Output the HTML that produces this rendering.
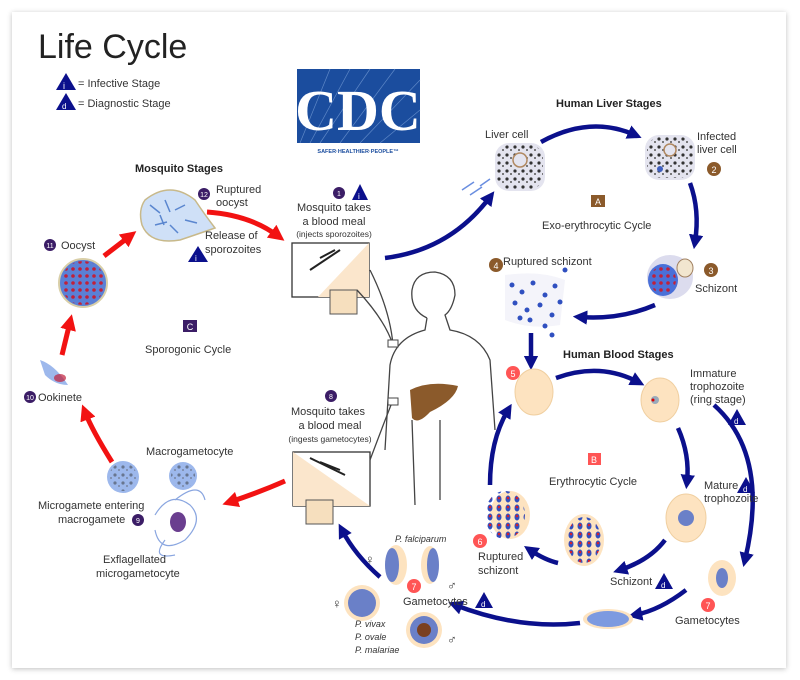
<!DOCTYPE html>
<html><head><meta charset="utf-8"><style>
html,body{margin:0;padding:0;background:#fff;width:800px;height:680px;overflow:hidden}
.card{position:absolute;left:12px;top:12px;width:774px;height:656px;background:#fff;box-shadow:0 1px 5px rgba(0,0,0,.25)}
svg{position:absolute;left:0;top:0}
text{font-family:"Liberation Sans",sans-serif;fill:#333}
.b{font-weight:bold;fill:#222}
</style></head><body>
<div class="card"></div>
<svg width="800" height="680" viewBox="0 0 800 680">
<defs>
<marker id="ab" viewBox="0 0 10 10" refX="5" refY="5" markerWidth="3.2" markerHeight="3.2" orient="auto"><path d="M0,0L10,5L0,10z" fill="#0b108c"/></marker>
<marker id="ar" viewBox="0 0 10 10" refX="5" refY="5" markerWidth="3.2" markerHeight="3.2" orient="auto"><path d="M0,0L10,5L0,10z" fill="#f21212"/></marker>
<pattern id="dots" width="8" height="8" patternUnits="userSpaceOnUse"><circle cx="3" cy="3" r="1.6" fill="#333"/><circle cx="7" cy="6" r="1" fill="#555"/></pattern>
<pattern id="rd" width="7" height="7" patternUnits="userSpaceOnUse"><circle cx="3" cy="3" r="1.8" fill="#c0203a"/></pattern>
<pattern id="bd" width="9" height="9" patternUnits="userSpaceOnUse"><ellipse cx="4" cy="4" rx="2.5" ry="3.5" fill="#3050c0"/><circle cx="4" cy="3" r="1.3" fill="#d02030"/></pattern>
</defs>
<text x="38" y="58" font-size="34" style="fill:#222">Life Cycle</text>
<path d="M56,90 L66,73 L76,90z" fill="#0b108c"/><text x="63" y="89" font-size="9" style="fill:#fff">i</text>
<text x="78" y="87" font-size="11">= Infective Stage</text>
<path d="M56,110 L66,93 L76,110z" fill="#0b108c"/><text x="62" y="109" font-size="8" style="fill:#fff">d</text>
<text x="78" y="107" font-size="11">= Diagnostic Stage</text>
<rect x="297" y="69" width="123" height="74" fill="#1b4d9e"/>
<g stroke="#7aa0d8" stroke-width="0.7" opacity=".7"><path d="M300,143L330,69M310,143L350,69M320,143L370,69M340,143L395,69M360,143L420,80M380,143L420,110"/></g>
<text x="358" y="130" font-size="58" text-anchor="middle" style="fill:#fff;font-family:'Liberation Serif',serif;font-weight:bold">CDC</text>
<text x="358" y="153" font-size="5.5" text-anchor="middle" style="fill:#1b4d9e;font-weight:bold">SAFER·HEALTHIER·PEOPLE™</text>
<text x="135" y="172" font-size="11" class="b">Mosquito Stages</text>
<path d="M145,200 Q170,180 195,200 Q205,215 215,228 Q195,235 180,240 Q150,245 142,225 Q138,210 145,200z" fill="#cfe0f7" stroke="#c8b98a" stroke-width="1.5"/>
<g stroke="#5a86cf" stroke-width="1.5"><path d="M150,205l10,8M165,200l5,12M175,210l10,-5M155,225l12,-3M170,225l8,8M185,220l12,3M160,215l4,10"/></g>
<circle cx="204" cy="194" r="6" fill="#3b1d66"/><text x="204" y="197" font-size="7" text-anchor="middle" style="fill:#fff">12</text>
<text x="216" y="193" font-size="11">Ruptured</text><text x="216" y="206" font-size="11">oocyst</text>
<text x="205" y="239" font-size="11">Release of</text><text x="205" y="253" font-size="11">sporozoites</text>
<path d="M188,262 L198,246 L208,262z" fill="#0b108c"/><text x="195" y="261" font-size="8" style="fill:#fff">i</text>
<circle cx="50" cy="245" r="6" fill="#3b1d66"/><text x="50" y="248" font-size="7" text-anchor="middle" style="fill:#fff">11</text>
<text x="61" y="249" font-size="11">Oocyst</text>
<circle cx="83" cy="283" r="24" fill="#5a80d6" stroke="#d9cfa8" stroke-width="2"/>
<circle cx="83" cy="283" r="22" fill="url(#rd)"/>
<rect x="183" y="320" width="14" height="12" fill="#3b1d66"/><text x="190" y="330" font-size="9" text-anchor="middle" style="fill:#fff">C</text>
<text x="145" y="353" font-size="11">Sporogonic Cycle</text>
<path d="M40,360 Q55,365 68,385 Q55,385 45,375z" fill="#9db8ec"/><ellipse cx="60" cy="378" rx="6" ry="4" fill="#c0203a" opacity=".7"/>
<circle cx="30" cy="397" r="6" fill="#3b1d66"/><text x="30" y="400" font-size="7" text-anchor="middle" style="fill:#fff">10</text>
<text x="38" y="401" font-size="11">Ookinete</text>
<g fill="none" stroke="#f21212" stroke-width="5">
<path d="M62,355 L70,322" marker-end="url(#ar)"/>
<path d="M104,256 L130,236" marker-end="url(#ar)"/>
<path d="M207,212 Q250,215 278,236" marker-end="url(#ar)"/>
<path d="M112,462 Q92,430 85,412" marker-end="url(#ar)"/>
<path d="M285,481 Q260,492 230,502" marker-end="url(#ar)"/>
</g>
<circle cx="123" cy="477" r="16" fill="#9db8ec"/><circle cx="123" cy="477" r="14" fill="url(#dots)" opacity=".5"/>
<text x="146" y="455" font-size="11">Macrogametocyte</text>
<circle cx="183" cy="476" r="14" fill="#9db8ec"/><circle cx="183" cy="476" r="12" fill="url(#dots)" opacity=".5"/>
<text x="38" y="509" font-size="11">Microgamete entering</text>
<text x="58" y="523" font-size="11">macrogamete</text>
<circle cx="138" cy="520" r="6" fill="#3b1d66"/><text x="138" y="523" font-size="7" text-anchor="middle" style="fill:#fff">9</text>
<g fill="none" stroke="#8aa6e0" stroke-width="1.2"><path d="M155,515 Q170,490 190,505 Q205,520 185,540 Q160,555 155,530M175,500 Q200,480 205,500M165,540 Q150,560 175,555"/></g>
<ellipse cx="178" cy="522" rx="8" ry="10" fill="#6a3e8f"/>
<text x="103" y="563" font-size="11">Exflagellated</text>
<text x="96" y="577" font-size="11">microgametocyte</text>
<circle cx="339" cy="193" r="6" fill="#3b1d66"/><text x="339" y="196" font-size="7" text-anchor="middle" style="fill:#fff">1</text>
<path d="M352,200 L360,184 L368,200z" fill="#0b108c"/><text x="358" y="199" font-size="8" style="fill:#fff">i</text>
<text x="334" y="211" font-size="11" text-anchor="middle">Mosquito takes</text>
<text x="334" y="225" font-size="11" text-anchor="middle">a blood meal</text>
<text x="334" y="237" font-size="8.5" text-anchor="middle">(injects sporozoites)</text>
<rect x="292" y="243" width="77" height="54" fill="#fff" stroke="#333" stroke-width="1.3"/>
<path d="M369,243 L369,297 L318,297z" fill="#fbe6cc"/>
<path d="M310,270 L340,250 M320,258 l15,-8" stroke="#222" stroke-width="2"/>
<rect x="330" y="290" width="27" height="24" fill="#f6dfbe" stroke="#555"/>
<circle cx="331" cy="396" r="6" fill="#3b1d66"/><text x="331" y="399" font-size="7" text-anchor="middle" style="fill:#fff">8</text>
<text x="328" y="415" font-size="11" text-anchor="middle">Mosquito takes</text>
<text x="330" y="429" font-size="11" text-anchor="middle">a blood meal</text>
<text x="330" y="442" font-size="8.5" text-anchor="middle">(ingests gametocytes)</text>
<rect x="293" y="452" width="77" height="54" fill="#fff" stroke="#333" stroke-width="1.3"/>
<path d="M293,452 L370,506 L293,506z" fill="#fbe6cc"/>
<path d="M310,458 L345,475 M320,462 l20,8" stroke="#222" stroke-width="2"/>
<rect x="306" y="500" width="27" height="24" fill="#f6dfbe" stroke="#555"/>
<g fill="none" stroke="#444" stroke-width="1.3">
<path d="M427,318 Q410,310 412,290 Q415,272 435,272 Q455,275 455,295 Q452,310 445,315 L450,330 Q480,335 490,360 L495,430 M427,318 L425,330 Q395,338 390,365 L385,450"/>
<path d="M412,420 L415,505 M440,420 L440,500"/>
<path d="M370,270 Q390,310 393,345 M357,290 Q385,320 393,345 M370,460 Q385,420 393,400"/>
</g>
<rect x="388" y="340" width="10" height="7" fill="#fff" stroke="#444"/><rect x="388" y="398" width="10" height="7" fill="#fff" stroke="#444"/>
<path d="M410,390 Q430,380 458,386 Q455,400 430,412 Q418,425 412,418z" fill="#8b5a2b"/>
<text x="556" y="107" font-size="11" class="b">Human Liver Stages</text>
<text x="485" y="138" font-size="11">Liver cell</text>
<rect x="495" y="143" width="50" height="48" rx="14" fill="#e4e4ef"/><rect x="497" y="145" width="46" height="44" rx="13" fill="url(#dots)"/>
<circle cx="520" cy="160" r="7" fill="#e4e4ef" stroke="#b08860" stroke-width="1.5"/>
<g stroke="#6a8ee0" stroke-width="1.5"><path d="M462,190 l12,-8M470,195 l12,-8M480,186l10,-7"/></g>
<rect x="645" y="135" width="50" height="45" rx="14" fill="#e4e4ef"/><rect x="647" y="137" width="46" height="41" rx="13" fill="url(#dots)"/>
<circle cx="670" cy="150" r="6" fill="#e4e4ef" stroke="#b08860" stroke-width="1.5"/><circle cx="660" cy="169" r="3" fill="#4060c0"/>
<text x="697" y="140" font-size="11">Infected</text><text x="697" y="153" font-size="11">liver cell</text>
<circle cx="714" cy="169" r="7" fill="#8b5a2b"/><text x="714" y="173" font-size="9" text-anchor="middle" style="fill:#fff">2</text>
<rect x="591" y="195" width="14" height="12" fill="#8b5a2b"/><text x="598" y="205" font-size="9" text-anchor="middle" style="fill:#fff">A</text>
<text x="542" y="229" font-size="11">Exo-erythrocytic Cycle</text>
<ellipse cx="670" cy="277" rx="23" ry="22" fill="#dcdcee"/><ellipse cx="663" cy="280" rx="15" ry="16" fill="#4a70d8"/><ellipse cx="663" cy="280" rx="13" ry="14" fill="url(#rd)"/>
<ellipse cx="685" cy="268" rx="8" ry="9" fill="#f2e6cf" stroke="#a08060"/>
<circle cx="711" cy="270" r="7" fill="#8b5a2b"/><text x="711" y="274" font-size="9" text-anchor="middle" style="fill:#fff">3</text>
<text x="695" y="292" font-size="11">Schizont</text>
<circle cx="496" cy="265" r="7" fill="#8b5a2b"/><text x="496" y="269" font-size="9" text-anchor="middle" style="fill:#fff">4</text>
<text x="503" y="265" font-size="11">Ruptured schizont</text>
<path d="M505,275 Q540,270 565,280 L560,325 Q530,330 505,320z" fill="#f4f4fa"/>
<g fill="#3050c0"><circle cx="512" cy="285" r="2.5"/><circle cx="522" cy="292" r="2.5"/><circle cx="533" cy="283" r="2.5"/><circle cx="545" cy="295" r="2.5"/><circle cx="555" cy="286" r="2.5"/><circle cx="515" cy="303" r="2.5"/><circle cx="527" cy="310" r="2.5"/><circle cx="540" cy="305" r="2.5"/><circle cx="552" cy="315" r="2.5"/><circle cx="530" cy="320" r="2.5"/><circle cx="560" cy="302" r="2.5"/><circle cx="520" cy="318" r="2.5"/><circle cx="545" cy="326" r="2.5"/><circle cx="565" cy="270" r="2.5"/><circle cx="552" cy="335" r="2.5"/></g>
<g fill="none" stroke="#0b108c" stroke-width="4.5">
<path d="M385,258 Q450,250 490,197" marker-end="url(#ab)"/>
<path d="M541,142 Q590,115 635,135" marker-end="url(#ab)"/>
<path d="M690,183 Q700,210 695,242" marker-end="url(#ab)"/>
<path d="M655,305 Q620,320 580,317" marker-end="url(#ab)"/>
<path d="M531,333 L531,363" marker-end="url(#ab)"/>
<path d="M556,378 Q600,362 638,382" marker-end="url(#ab)"/>
<path d="M678,428 Q690,455 687,482" marker-end="url(#ab)"/>
<path d="M714,405 Q770,455 745,560" marker-end="url(#ab)"/>
<path d="M665,540 Q650,560 620,570" marker-end="url(#ab)"/>
<path d="M558,563 Q545,560 530,550" marker-end="url(#ab)"/>
<path d="M490,485 Q490,440 508,410" marker-end="url(#ab)"/>
<path d="M686,590 Q660,610 635,615" marker-end="url(#ab)"/>
<path d="M580,623 Q520,630 455,605" marker-end="url(#ab)"/>
<path d="M380,577 Q355,555 342,530" marker-end="url(#ab)"/>
</g>
<text x="563" y="358" font-size="11" class="b">Human Blood Stages</text>
<circle cx="513" cy="373" r="7" fill="#f55"/><text x="513" y="377" font-size="9" text-anchor="middle" style="fill:#fff">5</text>
<ellipse cx="534" cy="392" rx="19" ry="23" fill="#fde3c0" stroke="#f0cfa0"/>
<ellipse cx="660" cy="400" rx="19" ry="22" fill="#fde3c0" stroke="#f0cfa0"/><circle cx="655" cy="400" r="4" fill="#9ab"/><circle cx="653" cy="400" r="1.5" fill="#d00"/>
<text x="690" y="377" font-size="11">Immature</text><text x="690" y="390" font-size="11">trophozoite</text><text x="690" y="403" font-size="11">(ring stage)</text>
<path d="M728,425 L737,409 L746,425z" fill="#0b108c"/><text x="734" y="424" font-size="8" style="fill:#fff">d</text>
<rect x="588" y="453" width="13" height="12" fill="#f55"/><text x="594" y="463" font-size="9" text-anchor="middle" style="fill:#fff">B</text>
<text x="549" y="485" font-size="11">Erythrocytic Cycle</text>
<text x="704" y="489" font-size="11">Mature</text><text x="704" y="502" font-size="11">trophozoite</text>
<path d="M737,493 L746,477 L755,493z" fill="#0b108c"/><text x="743" y="492" font-size="8" style="fill:#fff">d</text>
<ellipse cx="686" cy="518" rx="20" ry="24" fill="#fde3c0" stroke="#f0cfa0"/><circle cx="686" cy="518" r="8" fill="#6a80c8"/>
<ellipse cx="584" cy="540" rx="20" ry="26" fill="#fde3c0"/><ellipse cx="584" cy="540" rx="17" ry="23" fill="url(#bd)"/>
<text x="610" y="585" font-size="11">Schizont</text>
<path d="M655,589 L664,573 L673,589z" fill="#0b108c"/><text x="661" y="588" font-size="8" style="fill:#fff">d</text>
<ellipse cx="510" cy="515" rx="20" ry="24" fill="#fde3c0"/><ellipse cx="505" cy="515" rx="20" ry="24" fill="url(#bd)"/>
<circle cx="480" cy="541" r="7" fill="#f55"/><text x="480" y="545" font-size="9" text-anchor="middle" style="fill:#fff">6</text>
<text x="478" y="560" font-size="11">Ruptured</text><text x="478" y="574" font-size="11">schizont</text>
<ellipse cx="722" cy="578" rx="14" ry="18" fill="#fde3c0"/><ellipse cx="722" cy="578" rx="6" ry="10" fill="#6a80c8"/>
<circle cx="708" cy="605" r="7" fill="#f55"/><text x="708" y="609" font-size="9" text-anchor="middle" style="fill:#fff">7</text>
<text x="675" y="624" font-size="11">Gametocytes</text>
<ellipse cx="608" cy="619" rx="25" ry="10" fill="#fde3c0"/><ellipse cx="608" cy="619" rx="21" ry="8" fill="#7d9ae0"/>
<text x="395" y="542" font-size="9" font-style="italic">P. falciparum</text>
<text x="365" y="564" font-size="13">♀</text>
<ellipse cx="396" cy="565" rx="11" ry="20" fill="#fde3c0"/><ellipse cx="392" cy="565" rx="7" ry="17" fill="#6a80c8"/>
<ellipse cx="430" cy="565" rx="9" ry="19" fill="#fde3c0"/><ellipse cx="433" cy="565" rx="6" ry="17" fill="#6a80c8"/>
<text x="447" y="590" font-size="13">♂</text>
<circle cx="414" cy="586" r="7" fill="#f55"/><text x="414" y="590" font-size="9" text-anchor="middle" style="fill:#fff">7</text>
<text x="403" y="605" font-size="11">Gametocytes</text>
<path d="M475,608 L484,592 L493,608z" fill="#0b108c"/><text x="481" y="607" font-size="8" style="fill:#fff">d</text>
<text x="332" y="608" font-size="13">♀</text>
<circle cx="362" cy="603" r="18" fill="#fde3c0"/><circle cx="362" cy="603" r="14" fill="#6a80c8"/>
<circle cx="424" cy="630" r="18" fill="#fde3c0"/><circle cx="424" cy="630" r="14" fill="#6a80c8"/><circle cx="424" cy="630" r="7" fill="#7a4020"/>
<text x="447" y="644" font-size="13">♂</text>
<text x="355" y="627" font-size="9" font-style="italic">P. vivax</text>
<text x="355" y="640" font-size="9" font-style="italic">P. ovale</text>
<text x="355" y="653" font-size="9" font-style="italic">P. malariae</text>
</svg>
</body></html>
